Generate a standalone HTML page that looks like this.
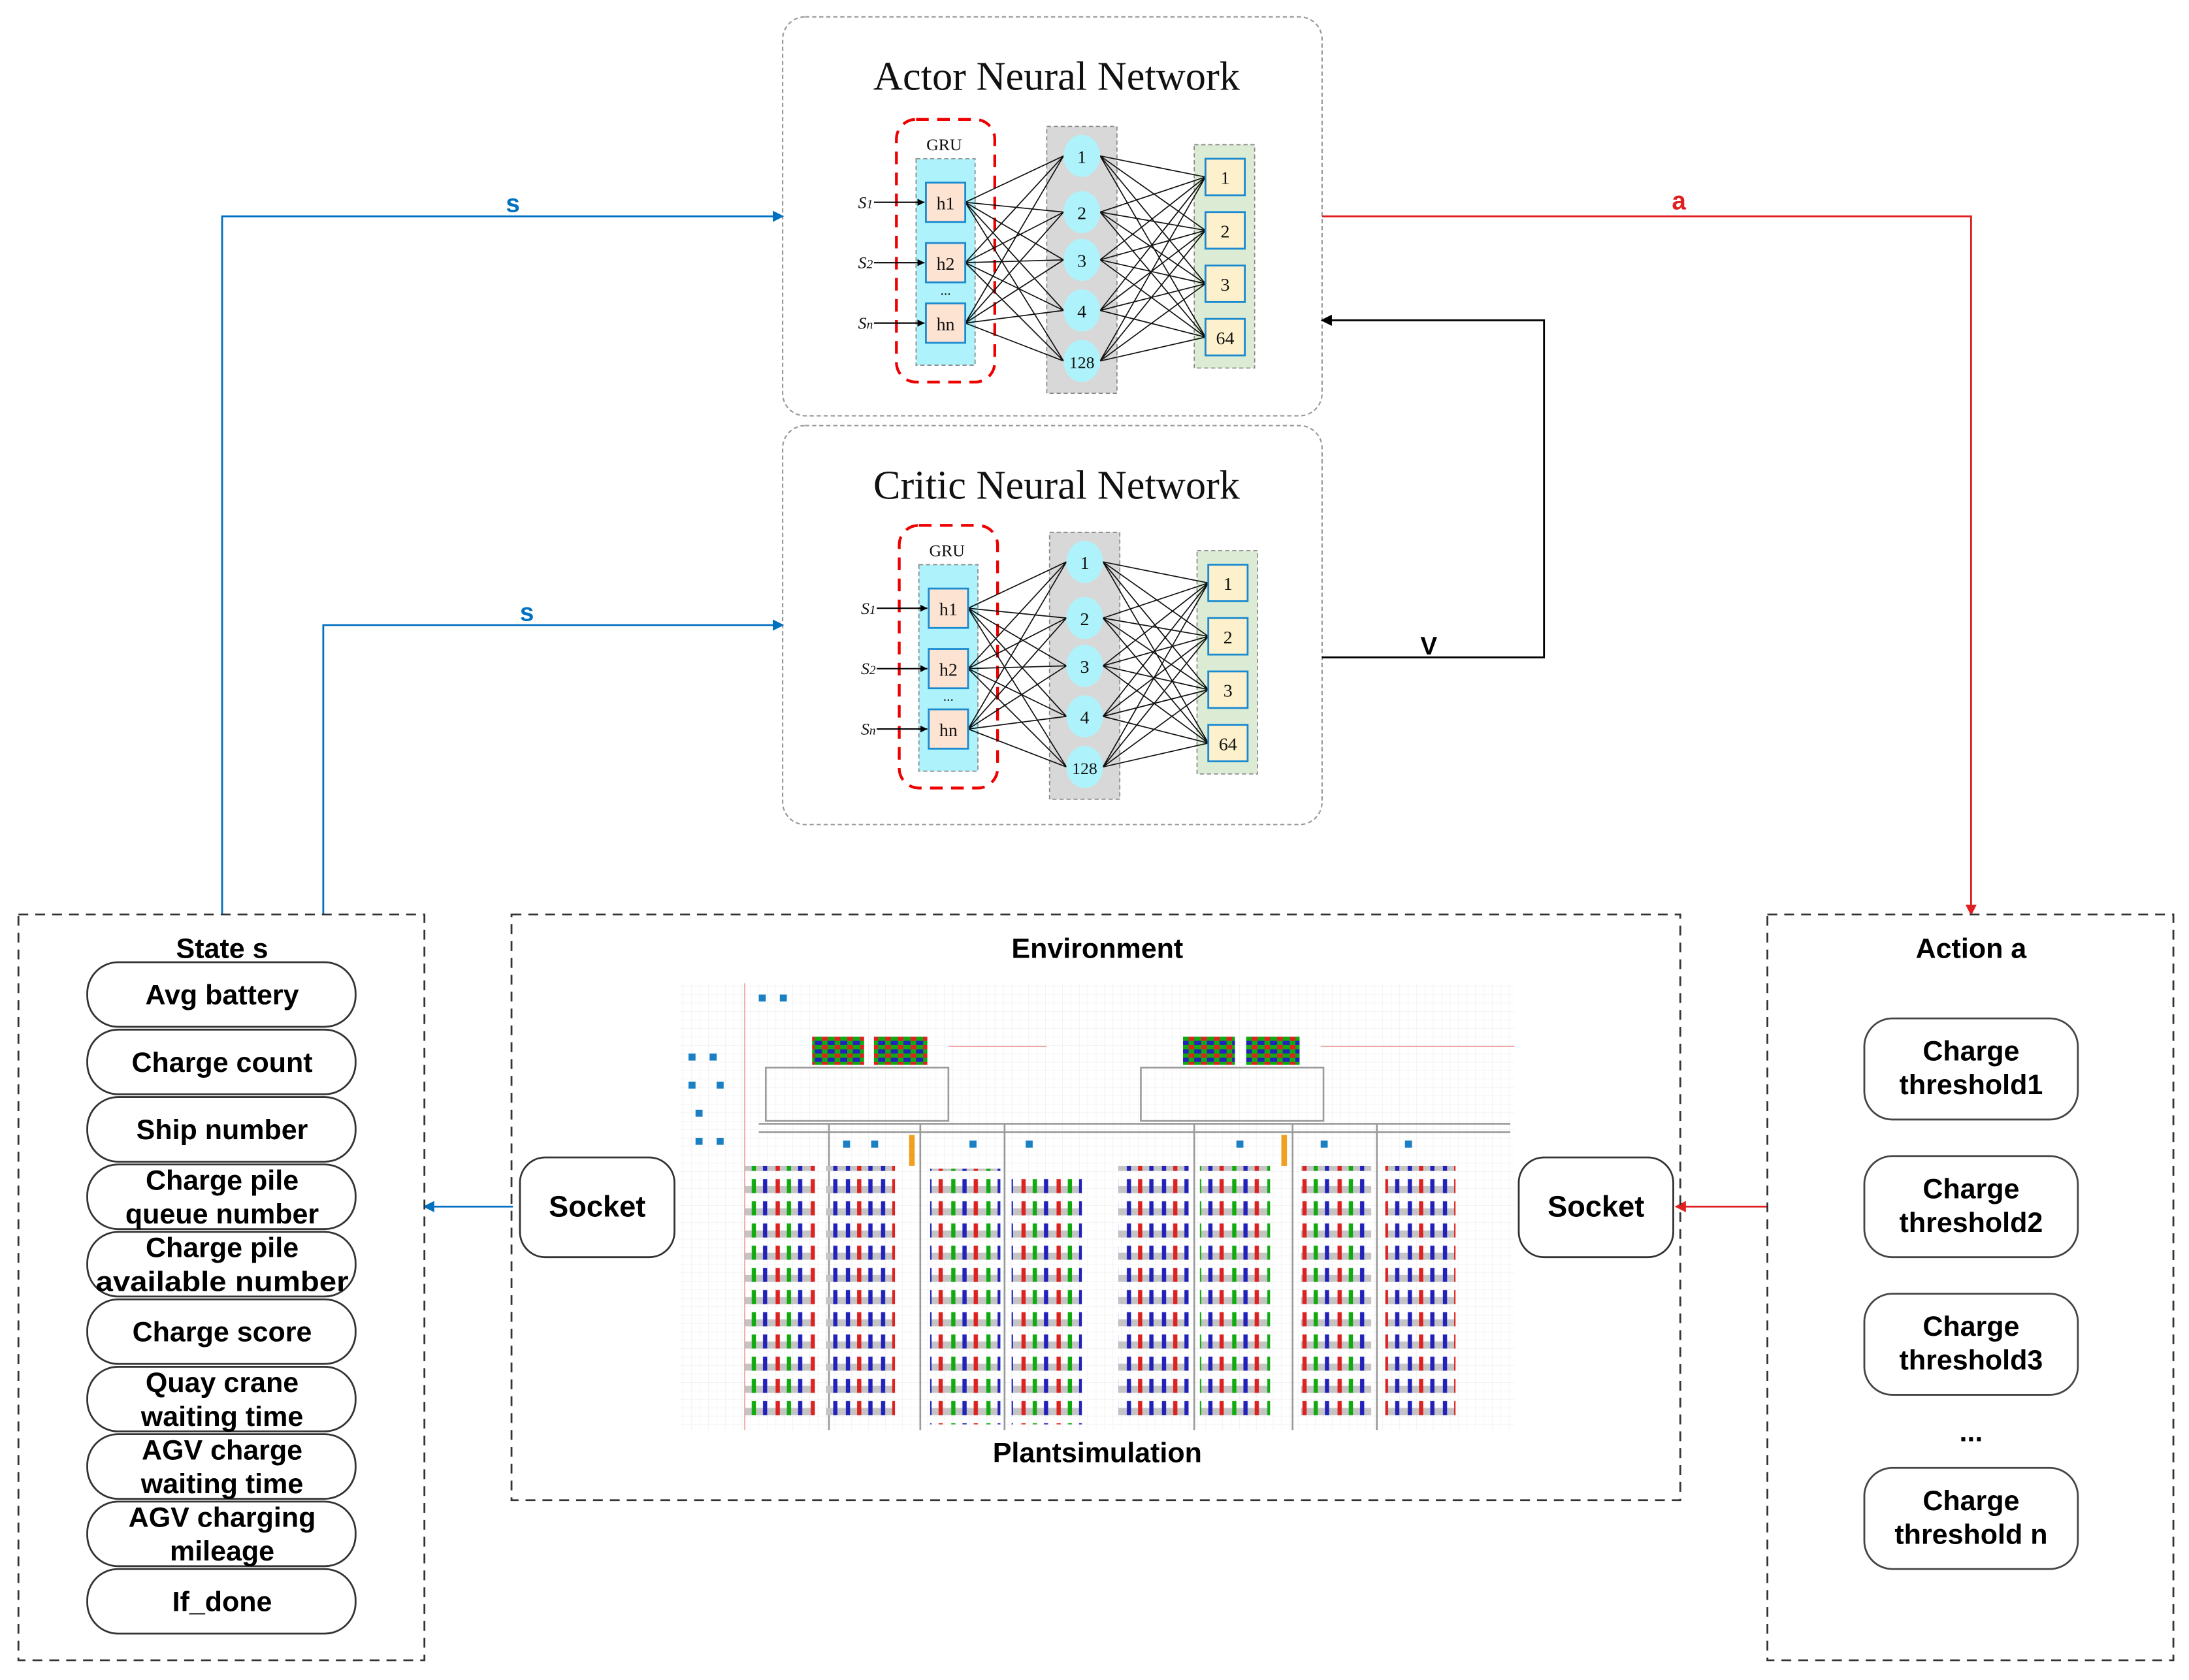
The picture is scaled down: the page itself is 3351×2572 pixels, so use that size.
<!DOCTYPE html>
<html><head><meta charset="utf-8"><style>
html,body{margin:0;padding:0;background:#fff;}
svg{display:block;}
.b{font-family:"Liberation Sans",sans-serif;font-weight:bold;fill:#000;}
.sf{font-family:"Liberation Serif",serif;fill:#111;}
</style></head><body>
<svg width="3351" height="2572" viewBox="0 0 1558 1196" xmlns="http://www.w3.org/2000/svg">
<defs>
<marker id="ab" markerWidth="8" markerHeight="8" refX="7" refY="4" orient="auto" markerUnits="userSpaceOnUse"><path d="M0,0 L8,4 L0,8 z" fill="#0070c0"/></marker>
<marker id="ar" markerWidth="8" markerHeight="8" refX="7" refY="4" orient="auto" markerUnits="userSpaceOnUse"><path d="M0,0 L8,4 L0,8 z" fill="#e02020"/></marker>
<marker id="ak" markerWidth="8" markerHeight="8" refX="7" refY="4" orient="auto" markerUnits="userSpaceOnUse"><path d="M0,0 L8,4 L0,8 z" fill="#000"/></marker>
<marker id="as" markerWidth="5" markerHeight="5" refX="5" refY="2.5" orient="auto" markerUnits="userSpaceOnUse"><path d="M0,0 L5,2.5 L0,5 z" fill="#000"/></marker>
<pattern id="p1" width="25" height="15.8" patternUnits="userSpaceOnUse">
<rect x="0" y="7" width="25" height="5" fill="#c4c4c4"/>
<rect x="2" y="2" width="3" height="10" fill="#d22"/><rect x="10" y="2" width="3" height="10" fill="#1a1"/><rect x="18" y="2" width="3" height="10" fill="#22b"/></pattern>
<pattern id="p2" width="25" height="15.8" patternUnits="userSpaceOnUse">
<rect x="0" y="7" width="25" height="5" fill="#c4c4c4"/>
<rect x="2" y="2" width="3" height="10" fill="#22b"/><rect x="10" y="2" width="3" height="10" fill="#d22"/><rect x="18" y="2" width="3" height="10" fill="#22b"/></pattern>
<pattern id="p3" width="25" height="15.8" patternUnits="userSpaceOnUse">
<rect x="0" y="7" width="25" height="5" fill="#c4c4c4"/>
<rect x="2" y="2" width="3" height="10" fill="#1a1"/><rect x="10" y="2" width="3" height="10" fill="#22b"/><rect x="18" y="2" width="3" height="10" fill="#d22"/></pattern>
<pattern id="sh" width="9" height="6" patternUnits="userSpaceOnUse">
<rect width="9" height="6" fill="#1a1"/><rect width="4" height="3" fill="#d22"/><rect x="4" y="3" width="5" height="3" fill="#22b"/></pattern>
<pattern id="gr" width="6" height="6" patternUnits="userSpaceOnUse"><rect width="6" height="6" fill="#fff"/><path d="M0 0H6M0 0V6" stroke="#eee" stroke-width="0.6"/></pattern>

<g id="net">
<rect x="638" y="85" width="70" height="187" rx="14" fill="none" stroke="#e00" stroke-width="2" stroke-dasharray="9,6"/>
<text x="672" y="107" class="sf" font-size="12" text-anchor="middle">GRU</text>
<rect x="652" y="113" width="42" height="147" fill="#aef3fb" stroke="#888" stroke-dasharray="3,2" stroke-width="0.8"/>
<rect x="745" y="90" width="50" height="190" fill="#d8d8d8" stroke="#888" stroke-dasharray="3,2" stroke-width="0.8"/>
<rect x="850" y="103" width="43" height="159" fill="#dcecd4" stroke="#888" stroke-dasharray="3,2" stroke-width="0.8"/>
<path stroke="#111" stroke-width="0.8" fill="none" d="M687 144L757 111M687 144L757 151M687 144L757 185M687 144L757 221M687 144L757 257M687 187L757 111M687 187L757 151M687 187L757 185M687 187L757 221M687 187L757 257M687 230L757 111M687 230L757 151M687 230L757 185M687 230L757 221M687 230L757 257
M783 111L858 126M783 111L858 164M783 111L858 202M783 111L858 240M783 151L858 126M783 151L858 164M783 151L858 202M783 151L858 240M783 185L858 126M783 185L858 164M783 185L858 202M783 185L858 240M783 221L858 126M783 221L858 164M783 221L858 202M783 221L858 240M783 257L858 126M783 257L858 164M783 257L858 202M783 257L858 240"/>
<line x1="622" y1="144" x2="658" y2="144" stroke="#000" stroke-width="1" marker-end="url(#as)"/>
<line x1="622" y1="187" x2="658" y2="187" stroke="#000" stroke-width="1" marker-end="url(#as)"/>
<line x1="622" y1="230" x2="658" y2="230" stroke="#000" stroke-width="1" marker-end="url(#as)"/>
<text x="616" y="148" class="sf" font-size="12" font-style="italic" text-anchor="middle">S<tspan font-size="9">1</tspan></text>
<text x="616" y="191" class="sf" font-size="12" font-style="italic" text-anchor="middle">S<tspan font-size="9">2</tspan></text>
<text x="616" y="234" class="sf" font-size="12" font-style="italic" text-anchor="middle">S<tspan font-size="9">n</tspan></text>
<g fill="#fde3d2" stroke="#1a8ad0" stroke-width="1.3">
<rect x="659" y="130" width="28" height="28"/><rect x="659" y="173" width="28" height="28"/><rect x="659" y="216" width="28" height="28"/></g>
<text x="673" y="149" class="sf" font-size="13" text-anchor="middle">h1</text>
<text x="673" y="192" class="sf" font-size="13" text-anchor="middle">h2</text>
<text x="673" y="235" class="sf" font-size="13" text-anchor="middle">hn</text>
<text x="673" y="210" class="sf" font-size="10" text-anchor="middle">...</text>
<g fill="#aef3fb"><ellipse cx="770" cy="111" rx="13" ry="15"/><ellipse cx="770" cy="151" rx="13" ry="15"/><ellipse cx="770" cy="185" rx="13" ry="15"/><ellipse cx="770" cy="221" rx="13" ry="15"/><ellipse cx="770" cy="257" rx="13" ry="15"/></g>
<g class="sf" font-size="13" text-anchor="middle"><text x="770" y="116">1</text><text x="770" y="156">2</text><text x="770" y="190">3</text><text x="770" y="226">4</text><text x="770" y="262" font-size="12">128</text></g>
<g fill="#fdf0cc" stroke="#1a8ad0" stroke-width="1.3"><rect x="858" y="113" width="28" height="26"/><rect x="858" y="151" width="28" height="26"/><rect x="858" y="189" width="28" height="26"/><rect x="858" y="227" width="28" height="26"/></g>
<g class="sf" font-size="13" text-anchor="middle"><text x="872" y="131">1</text><text x="872" y="169">2</text><text x="872" y="207">3</text><text x="872" y="245">64</text></g>
</g>
</defs>

<rect x="557" y="12" width="384" height="284" rx="16" fill="#fff" stroke="#999" stroke-width="1" stroke-dasharray="3,2"/>
<rect x="557" y="303" width="384" height="284" rx="16" fill="#fff" stroke="#999" stroke-width="1" stroke-dasharray="3,2"/>
<text x="752" y="64" class="sf" font-size="29" text-anchor="middle">Actor Neural Network</text>
<text x="752" y="355" class="sf" font-size="29" text-anchor="middle">Critic Neural Network</text>
<use href="#net"/>
<use href="#net" transform="translate(2,289)"/>

<polyline points="158,651 158,154 557,154" fill="none" stroke="#0070c0" stroke-width="1.3" marker-end="url(#ab)"/>
<polyline points="230,651 230,445 557,445" fill="none" stroke="#0070c0" stroke-width="1.3" marker-end="url(#ab)"/>
<text x="365" y="151" class="b" font-size="18" style="fill:#0070c0" text-anchor="middle">s</text>
<text x="375" y="442" class="b" font-size="18" style="fill:#0070c0" text-anchor="middle">s</text>
<polyline points="941,154 1403,154 1403,651" fill="none" stroke="#e02020" stroke-width="1.3" marker-end="url(#ar)"/>
<text x="1195" y="149" class="b" font-size="18" style="fill:#e02020" text-anchor="middle">a</text>
<polyline points="941,468 1099,468 1099,228 941,228" fill="none" stroke="#000" stroke-width="1.3" marker-end="url(#ak)"/>
<text x="1017" y="466" class="b" font-size="18" text-anchor="middle">V</text>
<line x1="365" y1="859" x2="302" y2="859" stroke="#0070c0" stroke-width="1.3" marker-end="url(#ab)"/>
<line x1="1258" y1="859" x2="1193" y2="859" stroke="#e02020" stroke-width="1.3" marker-end="url(#ar)"/>

<rect x="13" y="651" width="289" height="531" fill="none" stroke="#333" stroke-width="1.3" stroke-dasharray="7,5"/>
<text x="158" y="682" class="b" font-size="20" text-anchor="middle">State s</text>
<g fill="#fff" stroke="#333" stroke-width="1.3">
<rect x="62" y="685" width="191" height="46" rx="22"/><rect x="62" y="733" width="191" height="46" rx="22"/><rect x="62" y="781" width="191" height="46" rx="22"/><rect x="62" y="829" width="191" height="46" rx="22"/><rect x="62" y="877" width="191" height="46" rx="22"/><rect x="62" y="925" width="191" height="46" rx="22"/><rect x="62" y="973" width="191" height="46" rx="22"/><rect x="62" y="1021" width="191" height="46" rx="22"/><rect x="62" y="1069" width="191" height="46" rx="22"/><rect x="62" y="1117" width="191" height="46" rx="22"/></g>
<g class="b" font-size="20" text-anchor="middle">
<text x="158" y="715">Avg battery</text>
<text x="158" y="763">Charge count</text>
<text x="158" y="811">Ship number</text>
<text x="158" y="847">Charge pile</text><text x="158" y="871">queue number</text>
<text x="158" y="895">Charge pile</text><text x="158" y="919" textLength="180" lengthAdjust="spacingAndGlyphs">available number</text>
<text x="158" y="955">Charge score</text>
<text x="158" y="991">Quay crane</text><text x="158" y="1015">waiting time</text>
<text x="158" y="1039">AGV charge</text><text x="158" y="1063">waiting time</text>
<text x="158" y="1087">AGV charging</text><text x="158" y="1111">mileage</text>
<text x="158" y="1147">If_done</text>
</g>

<rect x="364" y="651" width="832" height="417" fill="none" stroke="#333" stroke-width="1.3" stroke-dasharray="7,5"/>
<text x="781" y="682" class="b" font-size="20" text-anchor="middle">Environment</text>
<text x="781" y="1041" class="b" font-size="20" text-anchor="middle">Plantsimulation</text>
<rect x="483" y="700" width="595" height="318" fill="url(#gr)"/>
<line x1="530" y1="700" x2="530" y2="1018" stroke="#f3a0a0" stroke-width="0.8"/>
<line x1="675" y1="745" x2="745" y2="745" stroke="#f3a0a0" stroke-width="0.8"/>
<line x1="940" y1="745" x2="1078" y2="745" stroke="#f3a0a0" stroke-width="0.8"/>
<rect x="578" y="738" width="37" height="20" fill="url(#sh)"/><rect x="622" y="738" width="38" height="20" fill="url(#sh)"/>
<rect x="842" y="738" width="37" height="20" fill="url(#sh)"/><rect x="887" y="738" width="38" height="20" fill="url(#sh)"/>
<g fill="none" stroke="#999" stroke-width="1.2">
<rect x="545" y="760" width="130" height="38"/><rect x="812" y="760" width="130" height="38"/>
<path d="M540 800H1075M540 806H1075M590 800V1018M655 800V1018M715 800V1018M850 800V1018M920 800V1018M980 800V1018"/></g>
<g fill="#1b7fc4">
<rect x="540" y="708" width="5" height="5"/><rect x="555" y="708" width="5" height="5"/><rect x="490" y="750" width="5" height="5"/><rect x="505" y="750" width="5" height="5"/><rect x="490" y="770" width="5" height="5"/><rect x="510" y="770" width="5" height="5"/><rect x="495" y="790" width="5" height="5"/><rect x="495" y="810" width="5" height="5"/><rect x="510" y="810" width="5" height="5"/><rect x="600" y="812" width="5" height="5"/><rect x="620" y="812" width="5" height="5"/><rect x="690" y="812" width="5" height="5"/><rect x="730" y="812" width="5" height="5"/><rect x="880" y="812" width="5" height="5"/><rect x="940" y="812" width="5" height="5"/><rect x="1000" y="812" width="5" height="5"/></g>
<rect x="647" y="808" width="4" height="22" fill="#f0a020"/><rect x="912" y="808" width="4" height="22" fill="#f0a020"/>
<g>
<rect x="530" y="830" width="50" height="182" fill="url(#p1)"/>
<rect x="588" y="830" width="49" height="182" fill="url(#p2)"/>
<rect x="662" y="832" width="50" height="182" fill="url(#p3)"/>
<rect x="720" y="834" width="50" height="180" fill="url(#p1)"/>
<rect x="796" y="830" width="50" height="182" fill="url(#p2)"/>
<rect x="854" y="830" width="50" height="182" fill="url(#p3)"/>
<rect x="926" y="830" width="50" height="182" fill="url(#p1)"/>
<rect x="986" y="830" width="50" height="182" fill="url(#p2)"/>
</g>
<g fill="#fff" stroke="#333" stroke-width="1.3">
<rect x="370" y="824" width="110" height="71" rx="18"/><rect x="1081" y="824" width="110" height="71" rx="18"/></g>
<text x="425" y="866" class="b" font-size="21" text-anchor="middle">Socket</text>
<text x="1136" y="866" class="b" font-size="21" text-anchor="middle">Socket</text>

<rect x="1258" y="651" width="289" height="531" fill="none" stroke="#333" stroke-width="1.3" stroke-dasharray="7,5"/>
<text x="1403" y="682" class="b" font-size="20" text-anchor="middle">Action a</text>
<g fill="#fff" stroke="#444" stroke-width="1.3">
<rect x="1327" y="725" width="152" height="72" rx="20"/><rect x="1327" y="823" width="152" height="72" rx="20"/><rect x="1327" y="921" width="152" height="72" rx="20"/><rect x="1327" y="1045" width="152" height="72" rx="20"/></g>
<g class="b" font-size="20" text-anchor="middle">
<text x="1403" y="755">Charge</text><text x="1403" y="779">threshold1</text>
<text x="1403" y="853">Charge</text><text x="1403" y="877">threshold2</text>
<text x="1403" y="951">Charge</text><text x="1403" y="975">threshold3</text>
<text x="1403" y="1026">...</text>
<text x="1403" y="1075">Charge</text><text x="1403" y="1099">threshold n</text>
</g>
</svg>
</body></html>
